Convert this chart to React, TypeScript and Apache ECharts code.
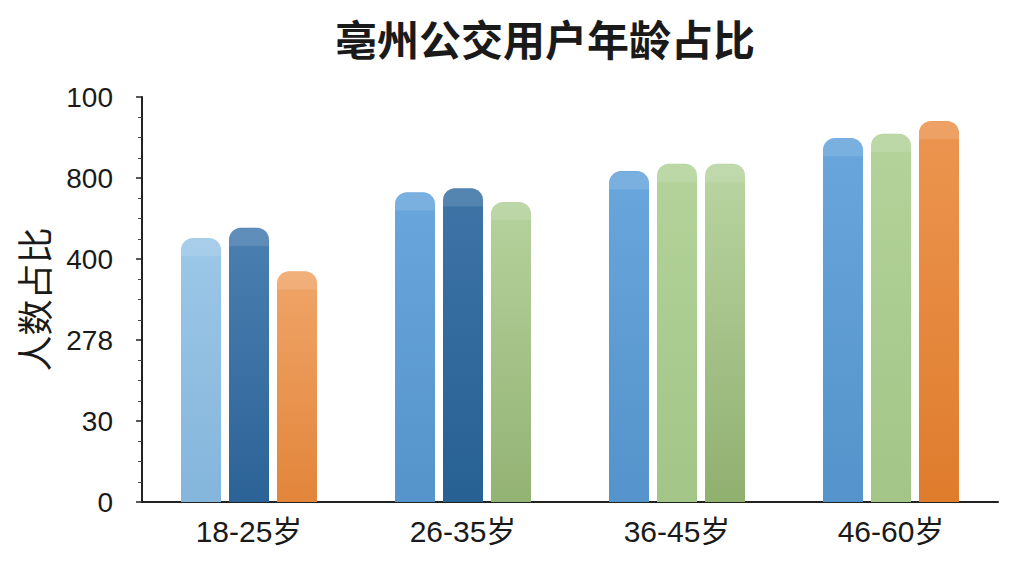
import React, { useEffect, useRef } from 'react';
import * as echarts from 'echarts';

// 年龄段
const categories = ['18-25岁', '26-35岁', '36-45岁', '46-60岁'];
// three bars per group, values on the 0-100 axis
const seriesA = [65.2, 76.5, 81.7, 89.9];
const seriesB = [67.7, 77.5, 83.5, 90.9];
const seriesC = [57.0, 74.1, 83.5, 94.1];
// tick labels as printed on the picture (bottom to top)
const yTickLabels = ['0', '30', '278', '400', '800', '100'];

// [top colour, bottom colour] for each bar
const colorsA = [
    ['#9cc8e8', '#84b5db'],
    ['#68a6dc', '#5594cb'],
    ['#68a6dc', '#5493cb'],
    ['#68a6dc', '#5493cb'],
];
const colorsB = [
    ['#4a7fb1', '#2c6396'],
    ['#3e74a6', '#276093'],
    ['#b3d39a', '#a3c587'],
    ['#b3d39a', '#a3c587'],
];
const colorsC = [
    ['#f0a569', '#e2853a'],
    ['#b5d29c', '#93b374'],
    ['#b9d5a2', '#90b070'],
    ['#ec9550', '#df7c2c'],
];

const FONT = '"Noto Sans CJK SC", "Noto Sans", sans-serif';
const LABEL_FONT = '"Liberation Sans", "Noto Sans CJK SC", sans-serif';
const BAR_W = 40;
const CAP = 'path://M0,12 Q0,0 12,0 L28,0 Q40,0 40,12 L40,18 L0,18 Z';

function grad(c: string[]) {
    return new echarts.graphic.LinearGradient(0, 0, 0, 1, [
        { offset: 0, color: c[0] },
        { offset: 1, color: c[1] },
    ]);
}

function barSeries(values: number[], colors: string[][]) {
    return {
        type: 'bar',
        barWidth: BAR_W,
        barGap: '20%',
        barCategoryGap: '36%',
        data: values.map((v, i) => ({
            value: v,
            itemStyle: { color: grad(colors[i]), borderRadius: [12, 12, 0, 0] },
        })),
    };
}

// lighter band at the top of each bar
function capSeries(values: number[]) {
    return {
        type: 'pictorialBar',
        barWidth: BAR_W,
        barGap: '20%',
        barCategoryGap: '36%',
        symbol: CAP,
        symbolSize: [BAR_W, 18],
        symbolPosition: 'end',
        z: 3,
        itemStyle: {
            color: 'rgba(255,255,255,0.12)',
            borderColor: 'rgba(0,0,0,0.05)',
            borderWidth: 1,
        },
        data: values,
    };
}

export default function App() {
    const chartRef = useRef<HTMLDivElement>(null);

    useEffect(() => {
        const chart = echarts.init(chartRef.current!, null, { renderer: 'svg' });

        chart.setOption({
            animation: false,
            backgroundColor: '#ffffff',
            title: {
                text: '亳州公交用户年龄占比',
                left: 330,
                top: 11,
                textStyle: {
                    color: '#1a1a1a',
                    fontSize: 42,
                    fontWeight: 'bold',
                    fontFamily: FONT,
                },
            },
            grid: { left: 142, right: 26, top: 97, bottom: 74 },
            xAxis: {
                type: 'category',
                data: categories,
                axisLine: { lineStyle: { color: '#222', width: 2 } },
                axisTick: { alignWithLabel: true, length: 8, lineStyle: { color: '#222', width: 1.5 } },
                axisLabel: {
                    color: '#1a1a1a',
                    fontSize: 30,
                    fontFamily: LABEL_FONT,
                    margin: 14,
                },
            },
            yAxis: {
                type: 'value',
                min: 0,
                max: 100,
                interval: 20,
                name: '人数占比',
                nameLocation: 'middle',
                nameGap: 91,
                nameTextStyle: { color: '#1a1a1a', fontSize: 36, fontFamily: FONT },
                axisLine: { show: true, lineStyle: { color: '#222', width: 2 } },
                axisTick: { show: true, length: 6, lineStyle: { color: '#222', width: 1.5 } },
                minorTick: { show: true, splitNumber: 4, length: 4, lineStyle: { color: '#444' } },
                splitLine: { show: false },
                axisLabel: {
                    color: '#1a1a1a',
                    fontSize: 28,
                    fontFamily: LABEL_FONT,
                    margin: 29,
                    formatter: (v: number) => yTickLabels[Math.round(v / 20)] ?? '',
                },
            },
            series: [
                barSeries(seriesA, colorsA),
                barSeries(seriesB, colorsB),
                barSeries(seriesC, colorsC),
                capSeries(seriesA),
                capSeries(seriesB),
                capSeries(seriesC),
            ],
        });

        return () => {
            chart.dispose();
        };
    }, []);

    return (
        <div
            ref={chartRef}
            style={{ position: 'absolute', left: 0, top: 0, width: 1024, height: 576 }}
        />
    );
}
